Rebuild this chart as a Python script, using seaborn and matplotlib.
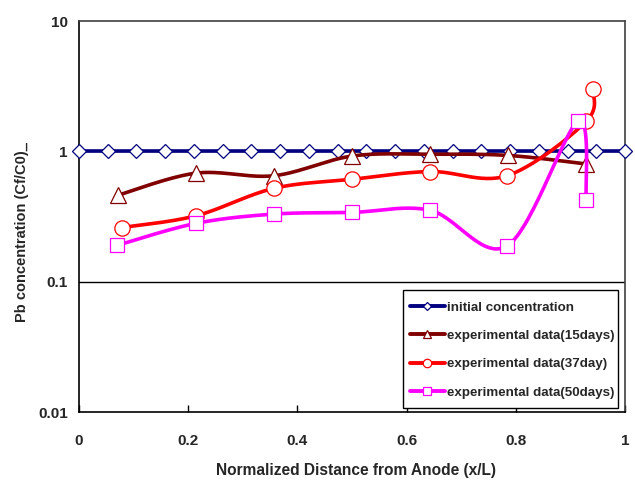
import numpy as np
import pandas as pd
import matplotlib
matplotlib.use("Agg")
import matplotlib.pyplot as plt
from matplotlib.lines import Line2D
from matplotlib.patches import Rectangle
import seaborn as sns

# ---- data -------------------------------------------------------------
x_initial = [i / 19 for i in range(20)]
c_initial = [1.0] * 20

x_15 = [0.071, 0.214, 0.357, 0.500, 0.643, 0.786, 0.929]
c_15 = [0.46, 0.68, 0.65, 0.92, 0.95, 0.93, 0.80]

x_37 = [0.078, 0.214, 0.357, 0.500, 0.643, 0.784, 0.929, 0.941]
c_37 = [0.26, 0.32, 0.52, 0.61, 0.70, 0.65, 1.70, 3.00]

x_50 = [0.070, 0.214, 0.357, 0.500, 0.643, 0.784, 0.914, 0.929]
c_50 = [0.19, 0.28, 0.33, 0.34, 0.353, 0.188, 1.70, 0.42]

labels = ["initial concentration",
          "experimental data(15days)",
          "experimental data(37day)",
          "experimental data(50days)"]

x_ticks = [0, 0.2, 0.4, 0.6, 0.8, 1]
x_tick_labels = ["0", "0.2", "0.4", "0.6", "0.8", "1"]
y_ticks = [0.01, 0.1, 1, 10]
y_tick_labels = ["0.01", "0.1", "1", "10"]

# ---- style ------------------------------------------------------------
sns.set_style("white")
plt.rcParams["font.family"] = ["Liberation Sans", "DejaVu Sans"]
plt.rcParams["font.weight"] = "bold"

series = [
    (x_initial, c_initial, "#000080", "D", 7.5, False),
    (x_15, c_15, "#800000", "^", 11, True),
    (x_37, c_37, "#FF0000", "o", 11, True),
    (x_50, c_50, "#FF00FF", "s", 10.5, True),
]


def smooth(xs, ys, n=30):
    """Catmull-Rom curve through the points, in (x, log10 y) space."""
    p = np.column_stack([xs, np.log10(ys)])
    if len(p) < 3:
        return np.asarray(xs), np.asarray(ys)
    ext = np.vstack([p[0], p, p[-1]])
    out = []
    t = np.linspace(0, 1, n, endpoint=False)[:, None]
    for i in range(1, len(ext) - 2):
        p0, p1, p2, p3 = ext[i - 1], ext[i], ext[i + 1], ext[i + 2]
        seg = 0.5 * ((2 * p1) + (-p0 + p2) * t
                     + (2 * p0 - 5 * p1 + 4 * p2 - p3) * t ** 2
                     + (-p0 + 3 * p1 - 3 * p2 + p3) * t ** 3)
        out.append(seg)
    out.append(p[-1][None, :])
    out = np.vstack(out)
    return out[:, 0], 10 ** out[:, 1]


fig = plt.figure(figsize=(6.35, 4.82), dpi=100)
ax = fig.add_axes([79 / 635, 1 - 412 / 482, 546 / 635, 391 / 482])

ax.set_yscale("log")

handles = []
for k, (xs, ys, col, mk, ms, sm) in enumerate(series):
    if sm:
        sx, sy = smooth(xs, ys)
    else:
        sx, sy = np.asarray(xs), np.asarray(ys)
    curve = pd.DataFrame({"x": sx, "y": sy})
    sns.lineplot(data=curve, x="x", y="y", sort=False, estimator=None,
                 color=col, linewidth=2.6, ax=ax, zorder=3 + 2 * k)
    ax.plot(xs, ys, linestyle="none", marker=mk, markersize=ms,
            markerfacecolor="white", markeredgecolor=col,
            markeredgewidth=0.9, zorder=4 + 2 * k, clip_on=False)
    handles.append(Line2D([], [], color=col, linewidth=2.8, marker=mk,
                          markersize=ms * 0.55, markerfacecolor="white",
                          markeredgecolor=col, markeredgewidth=0.9))

ax.set_xlim(0, 1)
ax.set_ylim(0.01, 10)

# horizontal major gridlines
for yv in [0.1, 1]:
    ax.axhline(yv, color="black", linewidth=1.0, zorder=1)

ax.set_xticks(x_ticks)
ax.set_xticklabels(x_tick_labels, fontsize=11, fontweight="bold")
ax.set_yticks(y_ticks)
ax.set_yticklabels(y_tick_labels, fontsize=11, fontweight="bold")
ax.minorticks_off()
ax.tick_params(axis="x", direction="in", length=5, width=1, pad=16,
               color="black", bottom=True)
ax.tick_params(axis="y", length=0, pad=8)
ax.set_xlabel("")
ax.set_ylabel("")

for side in ["left", "bottom"]:
    ax.spines[side].set_color("black")
    ax.spines[side].set_linewidth(1.2)
for side in ["top", "right"]:
    ax.spines[side].set_color("#404040")
    ax.spines[side].set_linewidth(1.2)

fig.text(356 / 635, 1 - 470 / 482, "Normalized Distance from Anode (x/L)",
         ha="center", va="center", fontsize=11.2, fontweight="bold")
fig.text(22 / 635, 1 - 232 / 482, "Pb concentration (Cf/C0)_",
         ha="center", va="center", rotation=90, fontsize=10.5,
         fontweight="bold")

# legend box (white panel with black border) and its entries
ax.add_patch(Rectangle((324 / 546, 4 / 391), 215 / 546, 118 / 391,
                       transform=ax.transAxes, facecolor="white",
                       edgecolor="black", linewidth=1.0, zorder=19,
                       clip_on=False))
leg = ax.legend(handles, labels, loc="upper left",
                bbox_to_anchor=(331 / 546, 110.5 / 391), frameon=False,
                fontsize=9.6, handlelength=2.6, handletextpad=0.15,
                labelspacing=1.2, borderpad=0, borderaxespad=0)
leg.set_zorder(20)
for t in leg.get_texts():
    t.set_fontweight("bold")

fig.savefig("out.png", dpi=100)
